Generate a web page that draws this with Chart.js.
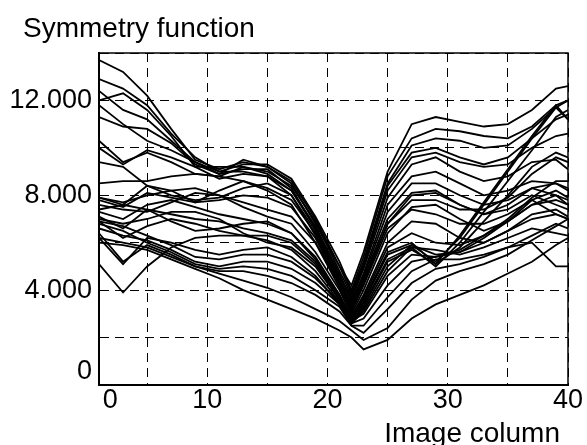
<!DOCTYPE html>
<html>
<head>
<meta charset="utf-8">
<script src="https://cdn.jsdelivr.net/npm/chart.js@4.4.0/dist/chart.umd.min.js"></script>
<style>
  body { margin: 0; background: #fff; }
  #wrap { width: 587px; height: 445px; }
</style>
</head>
<body>
<div id="wrap"><canvas id="chart" width="587" height="445"></canvas></div>
<script>
const chartTitle = 'Symmetry function';
const xTitle = 'Image column';

// image columns where the values were read
const xCols = [1, 3, 5, 7, 9, 11, 13, 15, 17, 19, 21, 22, 23, 25, 27, 29, 31, 33, 35, 37, 39, 40];

const xGrid = [1, 5, 10, 15, 20, 25, 30, 35, 40];
const xTickValues = [1, 10, 20, 30, 40];
const xTickLabels = ['0', '10', '20', '30', '40'];
const yGrid = [0, 2000, 4000, 6000, 8000, 10000, 12000, 14000];
const yTickValues = [0, 4000, 8000, 12000];
const yTickLabels = ['0', '4.000', '8.000', '12.000'];

// upper group
const u1 = [13700, 13200, 12200, 10800, 9500, 9100, 9400, 9200, 8600, 7000, 5000, 4200, 5600, 9000, 11000, 11300, 11100, 10900, 11000, 11600, 12500, 12600];
const u2 = [12900, 12500, 11800, 10600, 9600, 9000, 9300, 9300, 8700, 7100, 5200, 4000, 5400, 8800, 10400, 10800, 10700, 10500, 10400, 10900, 11800, 12000];
const u3 = [12400, 11600, 11200, 10300, 9400, 8900, 9500, 9200, 8500, 6800, 5000, 3900, 5200, 8500, 10100, 10400, 10300, 10000, 10100, 10800, 11700, 11200];
const u4 = [12000, 12300, 11600, 10500, 9200, 9200, 9200, 9000, 8400, 6900, 4800, 3800, 5000, 8200, 9600, 9800, 9400, 9200, 9300, 10000, 10500, 10600];
const u5 = [11300, 10900, 10800, 10200, 9300, 8900, 9100, 9100, 8300, 6600, 4600, 3600, 4900, 7900, 9300, 9600, 9000, 8600, 8800, 9400, 9500, 9100];
const u6 = [10300, 9400, 9800, 9400, 8900, 8800, 9200, 8900, 8200, 6700, 4700, 3500, 4700, 7600, 8800, 9000, 8500, 8000, 8200, 8600, 8500, 8300];
const u7 = [10000, 9300, 9900, 9600, 9200, 8700, 8900, 8800, 8000, 6500, 4500, 3400, 4600, 7300, 8500, 8500, 8000, 7600, 7800, 8300, 8000, 7800];
const u8 = [11800, 11000, 10300, 9900, 9400, 9000, 9000, 8800, 8200, 6600, 4600, 3700, 5100, 8400, 9800, 10000, 9600, 9300, 9600, 10400, 11200, 11400];
const um1 = [8500, 8600, 8600, 8800, 8900, 8800, 8600, 8300, 7800, 6400, 4400, 3300, 4500, 7000, 8100, 8200, 7600, 7200, 7400, 8000, 7600, 7400];
const um2 = [9400, 9200, 8400, 8000, 7800, 7900, 8300, 8500, 8000, 6300, 4300, 3200, 4300, 6800, 7800, 7800, 7400, 7400, 7900, 8900, 9600, 9400];
const um3 = [7900, 7600, 8400, 8200, 7700, 8200, 8600, 8200, 7600, 6000, 4100, 3100, 4200, 6600, 7400, 7200, 6800, 6800, 7200, 7800, 7200, 7000];

// middle group
const m1 = [7900, 7700, 8000, 8200, 8300, 8000, 7700, 7400, 7100, 6000, 4300, 3100, 4400, 6800, 8000, 8100, 7600, 7200, 7600, 8300, 8500, 8200];
const m2 = [7800, 7500, 8100, 7900, 7700, 7800, 8000, 7900, 7500, 6200, 4200, 3000, 4000, 6400, 7500, 7600, 7000, 6500, 6900, 7800, 8200, 7900];
const m3 = [7600, 7400, 7300, 7700, 8100, 8000, 7500, 7100, 6800, 5600, 4000, 2900, 3800, 6000, 6900, 6800, 6200, 6000, 6500, 7200, 7400, 7100];
const m4 = [7300, 7000, 7600, 7800, 7500, 7200, 7000, 6800, 6400, 5400, 3800, 2800, 3600, 5600, 6000, 5100, 6300, 7700, 9100, 10500, 11800, 11200];
const m5 = [7100, 6600, 7400, 7200, 7000, 6900, 6600, 6400, 6100, 5200, 3700, 2700, 3500, 5500, 5900, 5200, 6200, 7600, 9000, 10400, 11700, 12000];
const m6 = [7000, 6800, 7000, 7300, 7300, 7000, 6400, 6000, 5800, 5000, 3600, 2600, 3400, 5300, 5800, 5000, 6000, 7300, 8600, 9900, 11300, 11600];
const m7 = [6900, 6200, 6700, 7000, 6800, 6500, 6300, 6100, 5700, 4800, 3500, 2600, 3300, 5200, 5700, 5100, 5800, 6900, 8000, 9200, 9800, 9600];
const m8 = [7400, 7600, 7400, 6900, 6500, 6600, 6800, 6900, 6400, 5300, 3800, 2800, 3700, 5800, 6400, 6000, 5900, 6300, 7000, 7900, 8600, 8600];
const r1 = [5100, 3900, 5000, 5800, 6200, 6300, 6300, 6300, 6000, 5100, 3600, 2600, 3200, 5000, 5900, 5500, 5600, 6200, 6900, 7600, 8000, 7600];

// lower group
const l1 = [6000, 5900, 5700, 5300, 4900, 4500, 4000, 3600, 3200, 2800, 2300, 2000, 1500, 1900, 2800, 3400, 3800, 4200, 4700, 5200, 5900, 6200];
const l2 = [6200, 6000, 5800, 5400, 5000, 4700, 4400, 4100, 3700, 3200, 2700, 2300, 1900, 2400, 3600, 4400, 4800, 5100, 5500, 6100, 6700, 7000];
const l3 = [6400, 5200, 5900, 5500, 5000, 4800, 4800, 4600, 4300, 3800, 3100, 2500, 2200, 3200, 4300, 4900, 5100, 5400, 5800, 6300, 6800, 6600];
const l4 = [6800, 6500, 6000, 5600, 5100, 4900, 5000, 4900, 4600, 4000, 3300, 2500, 2500, 3700, 4800, 5300, 5300, 5500, 5800, 6000, 5000, 5000];
const l5 = [6600, 6300, 6100, 5700, 5200, 5000, 5200, 5200, 4900, 4300, 3400, 2600, 2800, 4200, 5200, 5400, 5600, 6000, 6500, 7000, 7200, 7000];
const l6 = [6900, 6700, 6300, 5900, 5400, 5300, 5500, 5500, 5200, 4500, 3500, 2700, 3000, 4600, 5500, 5400, 5700, 6300, 6900, 7600, 7800, 7600];
const l7 = [6200, 5100, 6200, 6000, 5700, 5500, 5700, 5800, 5400, 4600, 3400, 2600, 3100, 4800, 5800, 5700, 5500, 5800, 6200, 6600, 6400, 6300];

const allSeries = [u1, u2, u3, u4, u5, u6, u7, u8, um1, um2, um3,
  m1, m2, m3, m4, m5, m6, m7, m8, r1, l1, l2, l3, l4, l5, l6, l7];

const FONT = 'Liberation Sans, Arial, Helvetica, sans-serif';

const frame = {
  id: 'frame',
  afterDatasetsDraw(chart) {
    const { ctx, chartArea: a } = chart;
    ctx.save();
    ctx.strokeStyle = '#000';
    ctx.lineWidth = 1.5;
    ctx.strokeRect(a.left, a.top, a.right - a.left, a.bottom - a.top);
    ctx.lineWidth = 2;
    ctx.beginPath();
    ctx.moveTo(a.left, a.top);
    ctx.lineTo(a.left, a.bottom);
    ctx.lineTo(a.right, a.bottom);
    ctx.stroke();
    ctx.restore();
  },
  afterDraw(chart) {
    const { ctx } = chart;
    ctx.save();
    ctx.fillStyle = '#000';
    ctx.font = '28px ' + FONT;
    ctx.textBaseline = 'alphabetic';
    ctx.textAlign = 'left';
    ctx.fillText(chartTitle, 23, 37);
    ctx.textAlign = 'right';
    ctx.fillText(xTitle, 560, 442);
    ctx.restore();
  }
};

new Chart(document.getElementById('chart'), {
  type: 'line',
  data: {
    datasets: allSeries.map((s, i) => ({
      label: 'row ' + (i + 1),
      data: s.map((v, j) => ({ x: xCols[j], y: v })),
      borderColor: '#000',
      borderWidth: 1.8,
      pointRadius: 0,
      tension: 0,
      fill: false
    }))
  },
  options: {
    responsive: false,
    animation: false,
    layout: { padding: { top: 53, right: 19, left: 0, bottom: 0 } },
    plugins: { legend: { display: false }, tooltip: { enabled: false } },
    scales: {
      x: {
        type: 'linear',
        min: 1,
        max: 40,
        afterBuildTicks: s => { s.ticks = xGrid.map(v => ({ value: v })); },
        afterFit: s => { s.height = 60; },
        grid: { color: '#000', lineWidth: 1, drawTicks: false },
        border: { display: true, color: '#000', width: 2, dash: [9, 6] },
        ticks: {
          color: '#000',
          padding: 2,
          maxRotation: 0,
          autoSkip: false,
          font: { size: 27, family: FONT, lineHeight: 1 },
          callback: v => {
            const k = xTickValues.indexOf(v);
            if (k < 0) return '';
            return k === 0 ? '   ' + xTickLabels[k] : xTickLabels[k];
          }
        }
      },
      y: {
        min: 0,
        max: 14000,
        afterBuildTicks: s => { s.ticks = yGrid.map(v => ({ value: v })); },
        afterFit: s => { s.width = 99; },
        grid: { color: '#000', lineWidth: 1, drawTicks: false },
        border: { display: true, color: '#000', width: 2, dash: [9, 6] },
        ticks: {
          color: '#000',
          padding: 7,
          autoSkip: false,
          font: { size: 27, family: FONT, lineHeight: 1 },
          callback: v => {
            const k = yTickValues.indexOf(v);
            if (k < 0) return '';
            return k === 0 ? [yTickLabels[k], ''] : yTickLabels[k];
          }
        }
      }
    }
  },
  plugins: [frame]
});
</script>
</body>
</html>
